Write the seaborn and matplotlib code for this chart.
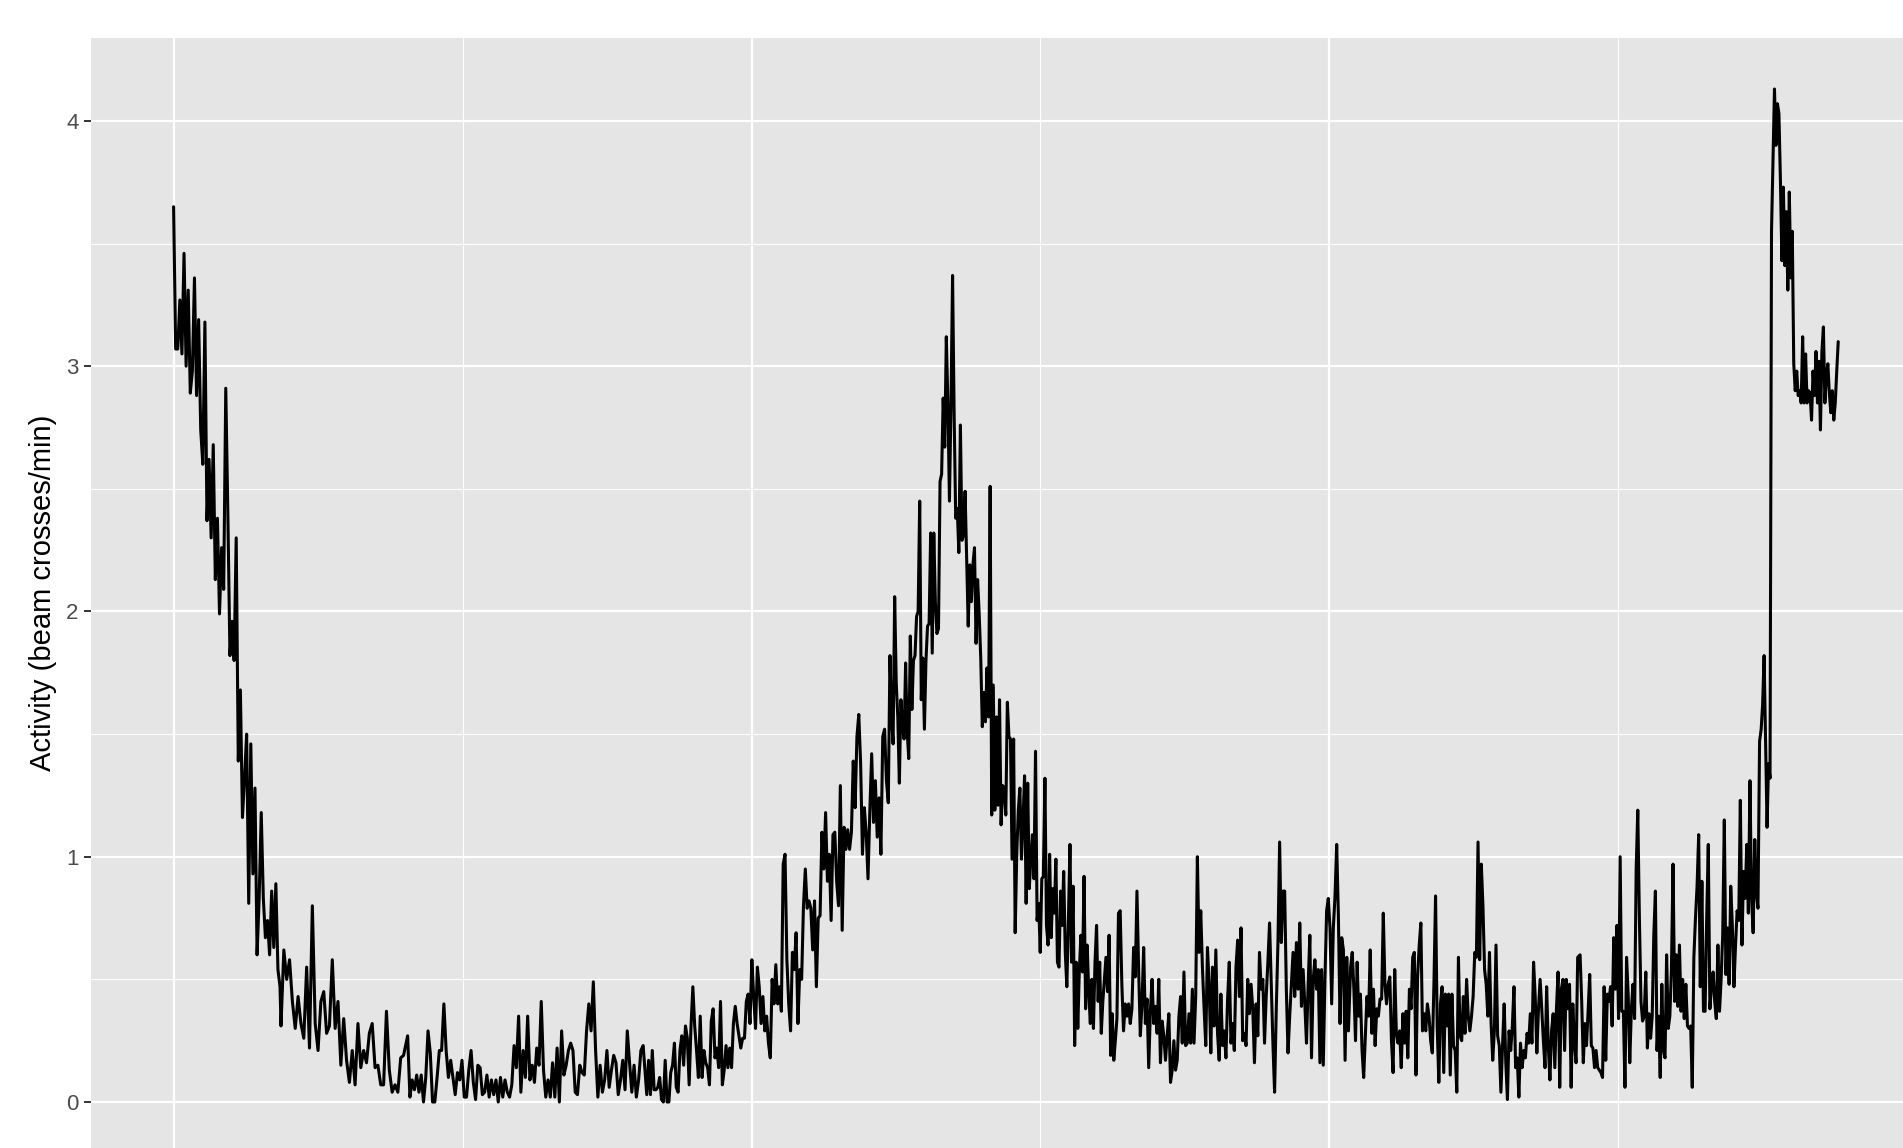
"""
Activity trace (beam crosses/min) over ~69 h, ggplot-grey look, cropped panel.
Saves out.png (1903x1148).
"""
import numpy as np
import pandas as pd
import matplotlib
matplotlib.use('Agg')
import matplotlib.pyplot as plt
import seaborn as sns
from matplotlib.ticker import MultipleLocator

# activity values, read per stretch of the trace; each stretch has (start_h, end_h)
act_a1 = [3.65, 3.07, 3.07, 3.27, 3.05, 3.46, 3.00, 3.31, 2.89, 2.98, 3.36, 2.88, 3.19,
          2.74, 2.60, 3.18, 2.37, 2.62, 2.30, 2.68, 2.13, 2.38, 1.99, 2.26, 2.09, 2.91,
          2.40, 1.82, 1.96, 1.80, 2.30, 1.39, 1.68, 1.16, 1.32, 1.50, 0.81, 1.46, 0.93,
          1.28, 0.60, 0.83, 1.18, 0.83, 0.67, 0.74, 0.60, 0.86, 0.63, 0.89, 0.54, 0.47]
act_a2 = [0.31, 0.62, 0.50, 0.58, 0.41, 0.30, 0.43, 0.32, 0.26, 0.55, 0.22, 0.80, 0.32,
          0.21, 0.41, 0.45, 0.28, 0.31, 0.58, 0.30, 0.41, 0.15, 0.34, 0.17, 0.08, 0.21,
          0.07, 0.32, 0.14, 0.21, 0.16, 0.28, 0.32, 0.14, 0.15, 0.07, 0.07, 0.37, 0.13,
          0.04, 0.07, 0.04, 0.18, 0.19]
act_b = [0.27, 0.02, 0.09, 0.05, 0.11, 0.04, 0.11, 0.00, 0.10, 0.29, 0.20, 0.00, 0.00,
         0.10, 0.21, 0.21, 0.40, 0.21, 0.10, 0.17, 0.10, 0.03, 0.12, 0.09, 0.17, 0.02,
         0.02, 0.13, 0.21, 0.08, 0.01, 0.15, 0.14, 0.03, 0.04, 0.11, 0.02, 0.09, 0.03,
         0.09, 0.00, 0.10, 0.02, 0.09, 0.04, 0.02, 0.07, 0.23, 0.14, 0.35, 0.04, 0.21,
         0.10, 0.35, 0.09, 0.15, 0.08, 0.22, 0.15, 0.41, 0.13, 0.02, 0.09, 0.02, 0.16,
         0.02, 0.22, 0.00, 0.29, 0.11, 0.15, 0.21, 0.24, 0.21, 0.04, 0.03, 0.15, 0.12,
         0.11, 0.29, 0.40, 0.29, 0.49, 0.21, 0.02, 0.15, 0.04, 0.09, 0.21, 0.06, 0.13,
         0.19, 0.16, 0.03, 0.09, 0.17, 0.05, 0.29, 0.16, 0.04, 0.15, 0.02, 0.09, 0.21,
         0.23]
act_c = [0.03, 0.17, 0.03, 0.21, 0.05, 0.05, 0.06, 0.10, 0.01, 0.00, 0.17, 0.00, 0.00,
         0.12, 0.15, 0.24, 0.06, 0.04, 0.21, 0.27, 0.15, 0.31, 0.26, 0.07, 0.31, 0.47,
         0.31, 0.21, 0.10, 0.35, 0.10, 0.21, 0.16, 0.14, 0.07, 0.33, 0.38, 0.18, 0.22,
         0.14, 0.41, 0.07, 0.13, 0.23, 0.14, 0.22, 0.14, 0.32, 0.39, 0.32, 0.27, 0.22,
         0.26, 0.26, 0.41, 0.44, 0.32, 0.58, 0.43, 0.30, 0.55, 0.47, 0.32, 0.43, 0.29,
         0.35, 0.24, 0.18, 0.50, 0.40, 0.56, 0.40, 0.47, 0.37, 0.97, 1.01, 0.58, 0.40,
         0.29, 0.61, 0.54, 0.69, 0.32, 0.54, 0.50, 0.80, 0.95, 0.79, 0.82, 0.79, 0.62,
         0.82, 0.47, 0.75, 0.76, 1.10, 0.95, 1.18, 0.90, 1.01, 0.74, 1.09, 1.10, 0.90,
         0.80, 1.29, 0.70, 1.12, 1.03, 1.11, 1.03, 1.10, 1.39, 1.20, 1.49, 1.58, 1.38,
         1.01, 1.20, 1.10, 0.91, 1.19, 1.42, 1.14, 1.31, 1.08, 1.24, 1.01, 1.49, 1.52,
         1.31, 1.22]
act_d = [1.82, 1.57, 1.46, 2.06, 1.71, 1.57, 1.30, 1.64, 1.53, 1.48, 1.79, 1.51, 1.40,
         1.90, 1.60, 1.80, 1.82, 1.98, 2.00, 2.45, 1.64, 1.81, 1.52, 1.80, 1.94, 1.95,
         2.32, 1.83, 2.32, 2.04, 1.91, 1.93, 2.53, 2.56, 2.87, 2.67, 3.12, 2.85, 2.45,
         2.85, 3.37, 2.80, 2.38, 2.42, 2.24, 2.76, 2.29, 2.31, 2.49, 2.21, 1.94, 2.19,
         2.04, 2.19, 2.26, 1.87, 2.13, 1.99, 1.81, 1.53, 1.67, 1.55, 1.77, 1.57, 2.51,
         1.17, 1.70, 1.19, 1.57, 1.21, 1.64, 1.13, 1.29, 1.28, 1.17, 1.63, 1.49, 1.48,
         0.99, 1.48, 0.69, 1.01, 1.19, 1.28, 0.99, 1.15, 1.33, 0.81, 1.30, 0.87, 0.99,
         1.09, 0.91, 1.43, 0.74, 0.81, 0.61, 0.91, 0.92, 1.32, 0.72, 0.64, 1.01, 0.67,
         0.87, 0.77, 0.99, 0.57, 0.55, 0.86, 0.72, 0.94, 0.61, 0.47, 0.74, 1.05, 0.57,
         0.88, 0.23, 0.57, 0.30, 0.54, 0.68, 0.53, 0.92, 0.38, 0.64, 0.45, 0.32, 0.50,
         0.30, 0.57, 0.72, 0.41, 0.57, 0.28, 0.41, 0.50, 0.59, 0.45, 0.68, 0.19, 0.36,
         0.17, 0.25, 0.34, 0.77]
act_e = [0.78, 0.48, 0.29, 0.40, 0.35, 0.40, 0.32, 0.38, 0.63, 0.51, 0.86, 0.54, 0.27,
         0.40, 0.63, 0.32, 0.42, 0.14, 0.37, 0.50, 0.32, 0.39, 0.28, 0.50, 0.16, 0.33,
         0.27, 0.17, 0.27, 0.36, 0.08, 0.13, 0.25, 0.13, 0.17, 0.35, 0.43, 0.24, 0.53,
         0.23, 0.24, 0.36, 0.24, 0.46, 0.24, 0.43, 1.00, 0.61, 0.78, 0.55, 0.38, 0.23,
         0.63, 0.48, 0.20, 0.55, 0.31, 0.62, 0.28, 0.17, 0.44, 0.23, 0.29, 0.18, 0.42,
         0.57, 0.24, 0.32, 0.21, 0.55, 0.66, 0.43, 0.71, 0.25, 0.28, 0.23, 0.50, 0.36,
         0.48, 0.38, 0.16, 0.40, 0.27, 0.61, 0.46, 0.50, 0.24, 0.43, 0.57, 0.73, 0.48,
         0.24, 0.04, 0.38, 0.65, 1.06, 0.65, 0.86, 0.86, 0.46, 0.20, 0.35, 0.48, 0.61,
         0.43, 0.65, 0.46, 0.73, 0.39, 0.54, 0.40, 0.24, 0.48, 0.68, 0.18, 0.50, 0.58,
         0.46, 0.54, 0.16, 0.54, 0.15, 0.50, 0.78, 0.83, 0.71, 0.40, 0.71, 0.84, 1.05,
         0.76, 0.32, 0.67, 0.62, 0.17, 0.59, 0.29]
act_f = [0.55, 0.61, 0.46, 0.25, 0.57, 0.35, 0.44, 0.21, 0.10, 0.27, 0.43, 0.35, 0.62,
         0.28, 0.46, 0.23, 0.38, 0.35, 0.42, 0.42, 0.77, 0.48, 0.40, 0.48, 0.51, 0.25,
         0.12, 0.54, 0.28, 0.24, 0.29, 0.14, 0.36, 0.24, 0.37, 0.18, 0.46, 0.38, 0.59,
         0.61, 0.11, 0.51, 0.64, 0.73, 0.29, 0.36, 0.29, 0.40, 0.35, 0.25, 0.20, 0.48,
         0.84, 0.31, 0.08, 0.40, 0.47, 0.12, 0.44, 0.31, 0.44, 0.11, 0.44, 0.23, 0.21,
         0.04, 0.59, 0.27, 0.25, 0.43, 0.28, 0.50, 0.35, 0.29, 0.35, 0.43, 0.61, 0.59,
         1.06, 0.58, 0.97, 0.80, 0.54, 0.48, 0.35, 0.61, 0.32, 0.17, 0.29, 0.64, 0.27,
         0.23, 0.04, 0.23, 0.40, 0.16, 0.01, 0.29, 0.21, 0.31, 0.47, 0.14, 0.18, 0.02,
         0.24, 0.14, 0.21, 0.18, 0.28, 0.24, 0.36, 0.24, 0.57, 0.43, 0.20, 0.38, 0.50,
         0.38, 0.25, 0.14, 0.47, 0.23, 0.09, 0.29, 0.36, 0.14, 0.38, 0.53, 0.06, 0.46,
         0.50, 0.21, 0.50, 0.38, 0.48, 0.06, 0.40, 0.24, 0.16, 0.59]
act_g = [0.60, 0.41, 0.16, 0.32, 0.23, 0.37, 0.52, 0.23, 0.22, 0.14, 0.21, 0.14, 0.13,
         0.12, 0.10, 0.47, 0.17, 0.44, 0.41, 0.47, 0.31, 0.67, 0.46, 0.72, 0.34, 1.00,
         0.37, 0.37, 0.06, 0.59, 0.44, 0.16, 0.38, 0.48, 0.34, 0.95, 1.19, 0.75, 0.41,
         0.33, 0.35, 0.53, 0.22, 0.36, 0.26, 0.35, 0.68, 0.86, 0.21, 0.35, 0.10, 0.48,
         0.21, 0.18, 0.60, 0.30, 0.35, 0.54, 0.97, 0.41, 0.60, 0.39, 0.64, 0.37, 0.50,
         0.34, 0.48, 0.31, 0.30, 0.31, 0.06, 0.59, 0.75, 0.88, 1.09, 0.47, 0.90, 0.37,
         0.37, 0.75, 1.05, 0.38, 0.47, 0.53, 0.41, 0.34, 0.64, 0.37, 0.50, 0.68, 1.15,
         0.52, 0.71, 0.48, 0.88, 0.72, 0.47, 0.64, 0.78, 0.74, 1.23, 0.64, 0.94, 0.83,
         1.05, 0.77, 1.31, 0.83, 0.69, 1.07, 0.85, 0.79, 1.47, 1.52]
act_h = [1.62, 1.82, 1.48, 1.12, 1.38, 1.32, 3.55, 3.84, 4.13, 3.90, 4.07, 4.03, 3.76,
         3.43, 3.73, 3.41, 3.63, 3.31, 3.71, 3.36, 3.55, 3.01, 2.90, 2.98, 2.88, 2.90,
         2.85, 3.12, 2.85, 3.05, 2.85, 2.90, 2.89, 2.78, 2.98, 2.88, 3.06, 2.85, 3.02,
         2.74, 3.06, 3.16, 2.85, 2.96, 3.01, 2.89, 2.81, 2.90, 2.78, 2.85, 2.98, 3.10]

# time span (hours) covered by each stretch
stretches = [
    (act_a1, 0.00, 4.42),
    (act_a2, 4.46, 9.55),
    (act_b, 9.72, 19.50),
    (act_c, 19.65, 29.68),
    (act_d, 29.75, 39.24),
    (act_e, 39.31, 48.79),
    (act_f, 48.88, 58.31),
    (act_g, 58.41, 65.93),
    (act_h, 65.99, 69.13),
]

frames = []
for vals, t0, t1 in stretches:
    frames.append(pd.DataFrame({'hours': np.linspace(t0, t1, len(vals)),
                                'activity': vals}))
df = pd.concat(frames, ignore_index=True)

W, H = 1903, 1148
sns.set_theme(style='darkgrid')
plt.rcParams['font.family'] = ['Liberation Sans', 'DejaVu Sans']

fig = plt.figure(figsize=(W / 100, H / 100), dpi=100)
# panel is cropped at the bottom and right edge of the picture
ax = fig.add_axes([91 / W, 0, 1 - 91 / W, 1 - 38 / H])
ax.set_facecolor('#E5E5E5')
for s in ax.spines.values():
    s.set_visible(False)

sns.lineplot(data=df, x='hours', y='activity', ax=ax, color='black',
             linewidth=2.2, estimator=None, sort=False)

ax.set_xlim(-3.43, 71.82)
ax.set_ylim(-0.1875, 4.338)
ax.xaxis.set_major_locator(MultipleLocator(24))
ax.xaxis.set_minor_locator(MultipleLocator(12))
ax.yaxis.set_major_locator(MultipleLocator(1))
ax.yaxis.set_minor_locator(MultipleLocator(0.5))
ax.grid(which='major', color='white', linewidth=1.6)
ax.grid(which='minor', color='white', linewidth=0.8)
ax.set_axisbelow(True)

ax.tick_params(axis='y', which='major', length=5, width=1.4, color='#333333',
               labelsize=16, labelcolor='#4D4D4D', pad=4, left=True)
ax.tick_params(axis='y', which='minor', length=0)
ax.tick_params(axis='x', which='both', length=0, labelbottom=False)

ax.set_xlabel('')
ax.set_ylabel('Activity (beam crosses/min)', fontsize=21, color='black')
ax.yaxis.set_label_coords(-0.019, 0.5)

fig.savefig('out.png', dpi=100)
plt.close(fig)
